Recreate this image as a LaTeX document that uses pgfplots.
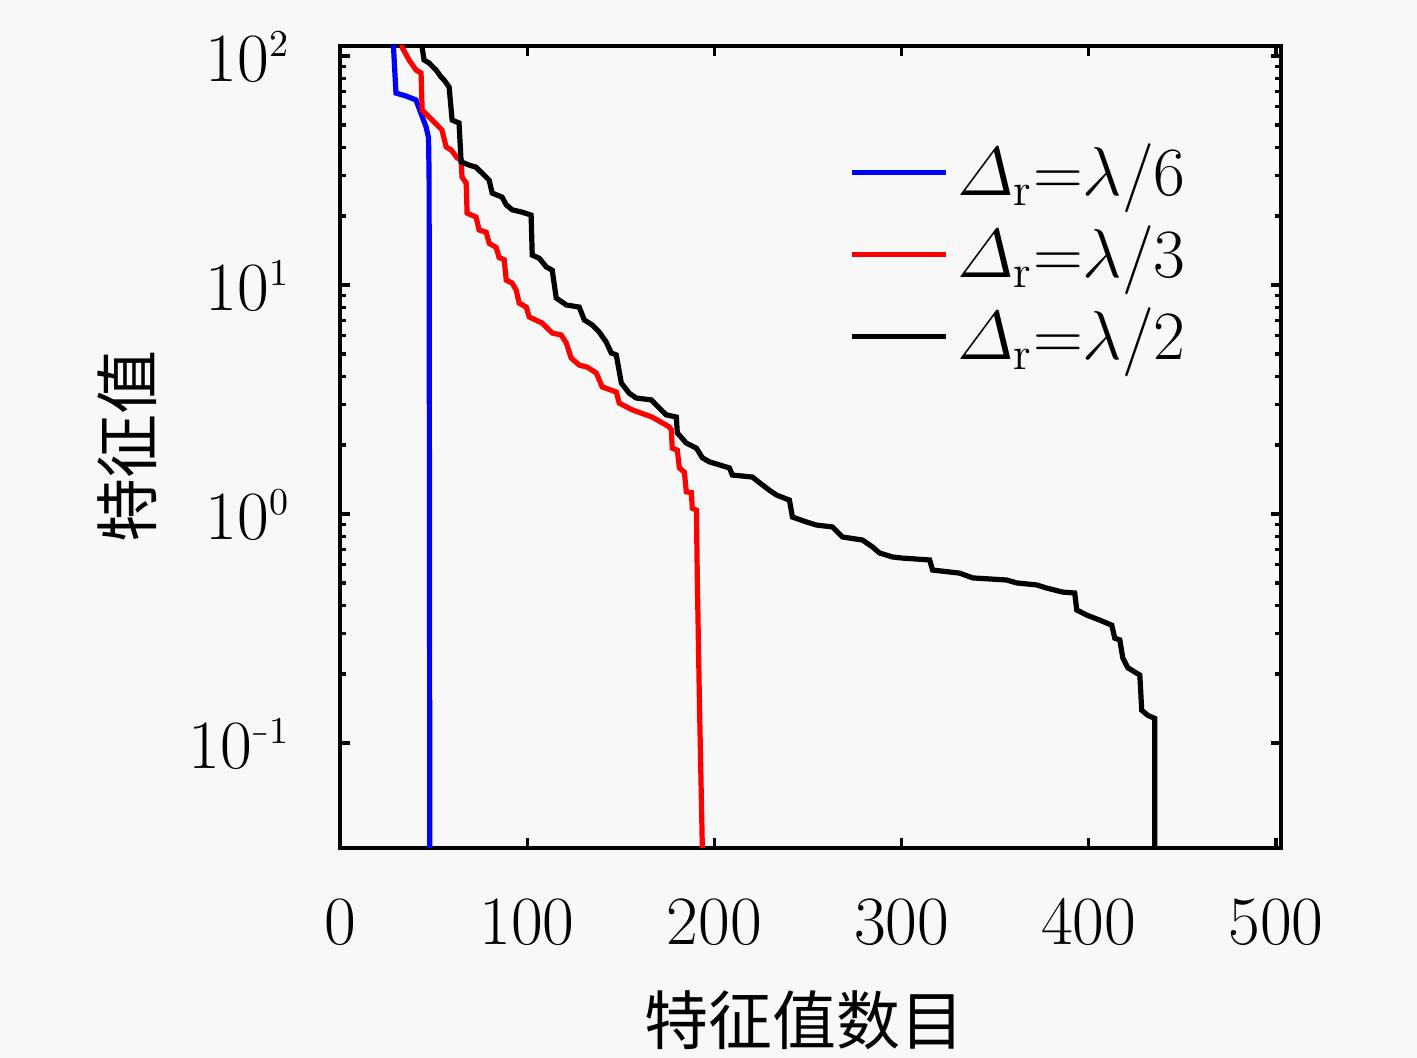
\documentclass[border=0pt]{standalone}
\usepackage{amsmath}
\usepackage{graphicx}
\usepackage{fontspec}
\newfontfamily\cjk{Noto Sans CJK SC}
\usepackage{pgfplots}
\pgfplotsset{compat=1.18}
\definecolor{bg}{RGB}{248,248,248}
\newcommand{\ex}[1]{\text{\fontsize{9.5}{10}\selectfont #1}}
\newcommand{\mn}{\scalebox{0.6}[1]{$-$}}
\begin{document}
\begin{tikzpicture}
\path[use as bounding box, fill=bg] (-85pt,-52.5pt) rectangle (269.25pt,212pt);
\begin{axis}[
  at={(0,0)}, anchor=south west,
  scale only axis, width=235.25pt, height=200.5pt,
  ymode=log,
  xmin=0, xmax=502.7, ymin=0.0348, ymax=110.6,
  xtick={0,100,200,300,400,500},
  ytick={0.1,1,10,100},
  yticklabels={$10^{\ex{\mn1}}$,$10^{\ex{0}}$,$10^{\ex{1}}$,$10^{\ex{2}}$},
  tick align=inside, tick pos=both,
  major tick length=2.6pt, minor tick length=1.4pt,
  every tick/.style={black, line width=0.8pt},
  axis line style={line width=1.2pt},
  tick label style={font=\fontsize{16.5}{20}\selectfont},
  xticklabel style={anchor=base, inner sep=0pt, yshift=-24.25pt},
  yticklabel style={anchor=east, inner sep=0pt, xshift=-12.25pt},
  xlabel={\cjk 特征值数目},
  ylabel={\cjk 特征值},
  label style={font=\fontsize{16}{18}\selectfont},
  x label style={at={(axis description cs:0.494,0)}, anchor=center, yshift=-43pt},
  y label style={at={(axis description cs:-0.2264,0.5)}, anchor=center},
  legend cell align=left,
  legend style={draw=none, fill=none, inner sep=0pt, row sep=2pt,
    at={(axis description cs:0.541,0.889)}, anchor=north west,
    font=\fontsize{16.5}{20}\selectfont},
  legend image code/.code={\draw[#1] (0pt,0pt) -- (21.75pt,0pt); \path (0pt,0pt) -- (23.5pt,0pt);},
]
\addplot[blue, line width=1.3pt] coordinates {
(27.5,160) (29.9,68.9) (35,67) (40.6,64.3) (43,56.9) (46,49) (47.3,44) (47.6,30) (47.8,1) (48,0.02)
};
\addlegendentry{$\varDelta_{\mathrm{r}}{=}\lambda/6$}
\addplot[red, line width=1.3pt] coordinates {
(32.5,150) (33.2,109) (36.9,96.1) (40.6,86.9) (43.3,84.3) (43.9,58.1) (47.6,54.2) (52.9,49.0) (54.5,47.5)
(56.7,40.1) (59.4,38.9) (62.6,35.9) (64.7,35.2) (65.2,29.6) (67.4,27.9) (67.9,20.6) (72.7,19.8)
(74.3,17.4) (78.1,17.0) (79.7,15.2) (83.4,14.6) (85.0,13.2) (87.7,12.9) (88.8,10.5) (92.0,10.2)
(94.1,9.51) (95.7,8.34) (99.5,8.01) (101.1,7.25) (108.0,6.82) (113.4,6.17) (118.2,6.05) (120.9,5.58)
(123.5,4.80) (127.8,4.47) (132.1,4.38) (136.9,4.13) (140.1,3.59) (147.6,3.41) (149.2,3.05) (156.1,2.85)
(166.8,2.65) (172.2,2.50) (175.9,2.40) (177.0,2.33) (177.5,1.94) (180.2,1.90) (181.3,1.59) (184.0,1.52)
(185.0,1.25) (187.7,1.24) (188.2,1.06) (190.4,1.04) (190.9,0.515) (192.0,0.154) (193.6,0.034) (193.7,0.02)
};
\addlegendentry{$\varDelta_{\mathrm{r}}{=}\lambda/3$}
\addplot[black, line width=1.3pt] coordinates {
(43.5,150) (43.9,109) (44.9,96.1) (47.6,93.2) (51.3,86.9) (54.0,81.0) (55.6,78.6) (58.3,73.2) (59.9,52.5)
(63.6,51.0) (64.7,34.5) (69.0,33.4) (72.7,32.7) (75.9,30.8) (79.7,28.7) (81.3,25.2) (86.6,24.2)
(88.8,22.4) (92.0,21.3) (97.3,20.8) (102.1,20.2) (102.7,13.5) (106.4,13.1) (110.2,12.0) (113.4,11.6)
(115.5,8.78) (120.9,8.18) (127.8,8.01) (130.5,7.04) (134.8,6.69) (138.5,6.23) (142.2,5.64) (144.9,5.05)
(147.6,4.95) (150.3,3.73) (154.5,3.37) (158.3,3.21) (166.3,3.15) (170.6,2.90) (174.3,2.71) (179.7,2.65)
(180.2,2.26) (185.0,2.04) (190.4,1.94) (193.6,1.76) (197.3,1.69) (208.0,1.59) (209.6,1.48) (220.3,1.45)
(224.1,1.37) (229.4,1.27) (233.2,1.21) (240.1,1.15) (241.7,0.970) (249.2,0.923) (254.5,0.895) (263.1,0.878)
(268.4,0.794) (279.1,0.770) (284.5,0.718) (288.2,0.676) (295.2,0.649) (300.5,0.642) (315.0,0.630)
(316.6,0.569) (331.0,0.552) (338.0,0.526) (356.1,0.515) (361.5,0.500) (372.2,0.490) (377.5,0.475)
(386.1,0.456) (392.5,0.452) (393.6,0.381) (398.9,0.362) (405.9,0.344) (412.3,0.327) (413.9,0.287)
(416.6,0.282) (418.2,0.235) (420.9,0.213) (427.3,0.198) (428.3,0.139) (431.6,0.132) (435.3,0.128) (435.3,0.02)
};
\addlegendentry{$\varDelta_{\mathrm{r}}{=}\lambda/2$}
\end{axis}
\end{tikzpicture}
\end{document}
